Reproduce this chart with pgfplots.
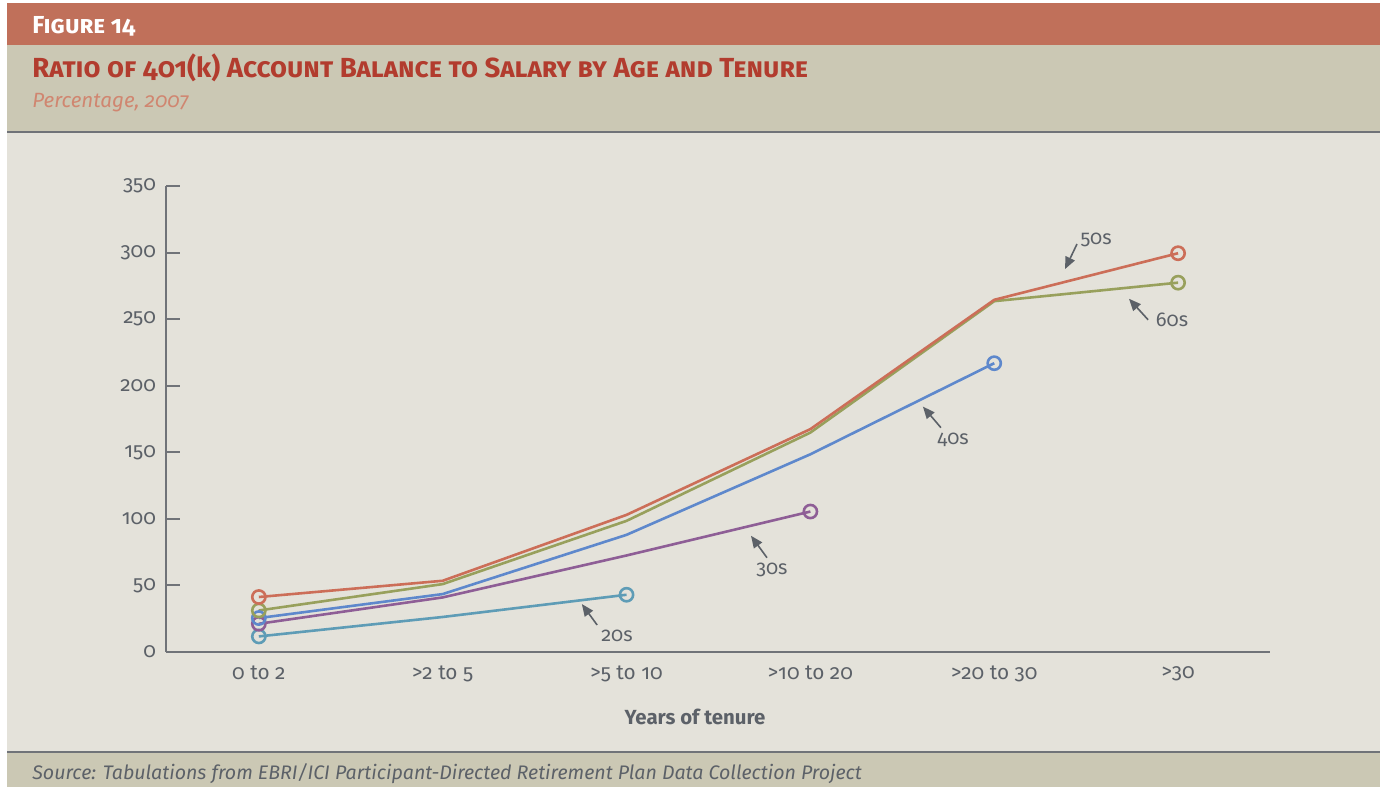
\documentclass[border=0pt]{standalone}
\usepackage{pgfplots}
\pgfplotsset{compat=1.18}
\usepackage{fontspec}
\setmainfont{Fira Sans}[Numbers=OldStyle]
\usetikzlibrary{arrows.meta}
\definecolor{barred}{HTML}{C0705A}
\definecolor{band}{HTML}{CBC8B4}
\definecolor{plotbg}{HTML}{E4E2DA}
\definecolor{titlered}{HTML}{B23C2E}
\definecolor{subred}{HTML}{D08670}
\definecolor{axgray}{HTML}{707378}
\definecolor{txtgray}{HTML}{5C6168}
\definecolor{c50}{HTML}{CC6E58}
\definecolor{c60}{HTML}{98A05C}
\definecolor{c40}{HTML}{5E88CC}
\definecolor{c30}{HTML}{8E5E96}
\definecolor{c20}{HTML}{5E9CB6}
\begin{document}
\begin{tikzpicture}
\path[use as bounding box] (0,0) rectangle (690pt,393.5pt);
\begin{scope}[yshift=393.5pt,x=0.5pt,y=-0.5pt]
\fill[white] (0,0) rectangle (1380,787);
\fill[barred] (7,3) rectangle (1380,45);
\fill[band] (7,45) rectangle (1380,132);
\fill[plotbg] (7,132) rectangle (1380,752);
\fill[band] (7,752) rectangle (1380,787);
\draw[axgray,line width=1pt] (7,132)--(1380,132);
\draw[axgray,line width=1pt] (7,752)--(1380,752);
\node[anchor=base west,inner sep=0,text=white,font=\bfseries\fontsize{12.3}{14}\selectfont] at (32,34) {\textsc{Figure 14}};
\node[anchor=base west,inner sep=0,text=titlered,font=\bfseries\fontsize{13.8}{16}\selectfont] at (32,78) {\textsc{Ratio of 401({\upshape k}) Account Balance to Salary by Age and Tenure}};
\node[anchor=base west,inner sep=0,text=subred,font=\itshape\fontsize{10.3}{12}\selectfont] at (32,108) {Percentage, 2007};
\node[anchor=base west,inner sep=0,text=txtgray,font=\itshape\fontsize{9.8}{11}\selectfont] at (32,779) {Source: Tabulations from EBRI/ICI Participant-Directed Retirement Plan Data Collection Project};
\node[anchor=center,inner sep=0,text=txtgray,font=\bfseries\fontsize{10.2}{12}\selectfont] at (695,717) {Years of tenure};
\end{scope}
\begin{axis}[
  at={(83pt,67.5pt)}, anchor=south west,
  width=552pt, height=233pt, scale only axis,
  xmin=-0.505, xmax=5.5, ymin=0, ymax=350,
  axis lines*=left,
  axis line style={axgray,line width=1pt,-},
  xtick={0,1,2,3,4,5},
  xticklabels={0 to 2,>2 to 5,>5 to 10,>10 to 20,>20 to 30,>30},
  ytick={0,50,...,350},
  x tick style={draw=none},
  y tick style={axgray,line width=1pt},
  major tick length=7pt, tick align=inside,
  tick label style={font=\fontsize{10.4}{12}\selectfont,text=txtgray},
  /pgf/number format/assume math mode=true,
  xticklabel style={yshift=-3.5pt},
  yticklabel style={xshift=-1.5pt},
  clip=false,
  every axis plot/.append style={line width=1.3pt, mark=o, mark size=3.3pt, mark options={fill=plotbg,line width=1.3pt,solid}},
]
\addplot[c20, mark indices={1,3}] coordinates {(0,11.7)(1,26.3)(2,43)};
\addplot[c30, mark indices={1,4}] coordinates {(0,21.2)(1,41)(2,72.5)(3,105.5)};
\addplot[c40, mark indices={1,5}] coordinates {(0,25.5)(1,43.5)(2,88)(3,148.5)(4,216.9)};
\addplot[c60, mark indices={1,6}] coordinates {(0,31.2)(1,51)(2,98.5)(3,164.8)(4,263.5)(5,277.4)};
\addplot[c50, mark indices={1,6}] coordinates {(0,41.3)(1,53.5)(2,103)(3,167.4)(4,264.5)(5,299.5)};
% annotations
\begin{scope}[every node/.style={text=txtgray,font=\fontsize{10}{11}\selectfont,inner sep=0}]
\draw[txtgray,line width=0.8pt,-{Triangle[length=6pt,width=5pt]}] (axis cs:1.840,20.3) -- (axis cs:1.757,36.0);
\node at (axis cs:1.948,12.2) {20s};
\draw[txtgray,line width=0.8pt,-{Triangle[length=6pt,width=5pt]}] (axis cs:2.764,70.8) -- (axis cs:2.677,87.3);
\node at (axis cs:2.791,61.8) {30s};
\draw[txtgray,line width=0.8pt,-{Triangle[length=6pt,width=5pt]}] (axis cs:3.710,168.5) -- (axis cs:3.612,184.3);
\node at (axis cs:3.776,159.5) {40s};
\draw[txtgray,line width=0.8pt,-{Triangle[length=6pt,width=5pt]}] (axis cs:4.450,306.4) -- (axis cs:4.385,287.6);
\node at (axis cs:4.554,309.4) {50s};
\draw[txtgray,line width=0.8pt,-{Triangle[length=6pt,width=5pt]}] (axis cs:4.837,249.5) -- (axis cs:4.733,265.3);
\node at (axis cs:4.967,249.5) {60s};
\end{scope}
\end{axis}
\end{tikzpicture}
\end{document}
